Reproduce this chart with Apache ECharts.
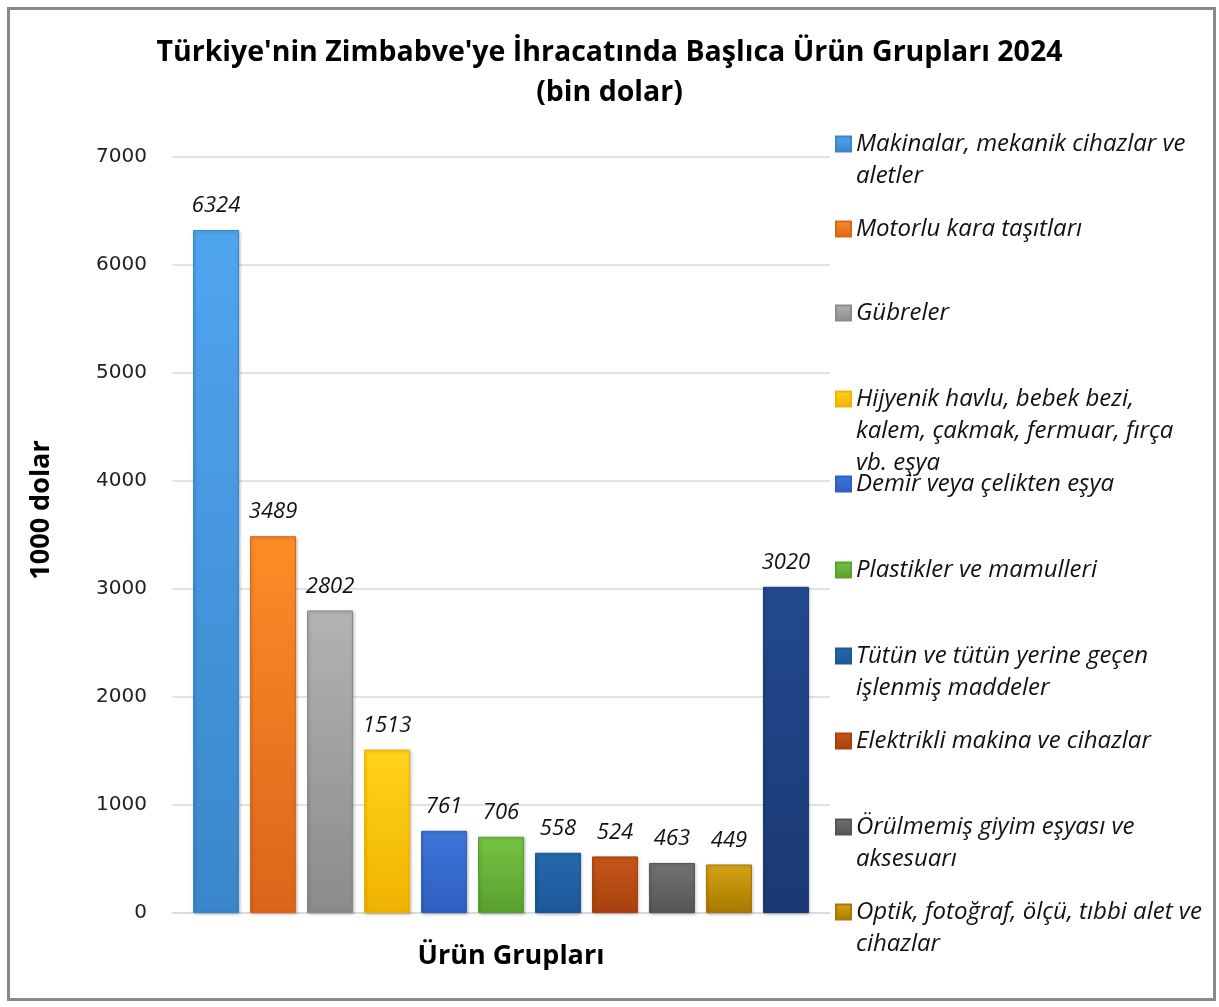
<!DOCTYPE html>
<html>
<head>
<meta charset="utf-8">
<script src="https://cdn.jsdelivr.net/npm/echarts@6/dist/echarts.min.js"></script>
<style>
html,body{margin:0;padding:0;background:#fff;}
#chart{width:1219px;height:1007px;}
</style>
</head>
<body>
<div id="chart"></div>
<script>
// ---- data ----
var categories = [
  'Makinalar, mekanik cihazlar ve aletler',
  'Motorlu kara taşıtları',
  'Gübreler',
  'Hijyenik havlu, bebek bezi, kalem, çakmak, fermuar, fırça vb. eşya',
  'Demir veya çelikten eşya',
  'Plastikler ve mamulleri',
  'Tütün ve tütün yerine geçen işlenmiş maddeler',
  'Elektrikli makina ve cihazlar',
  'Örülmemiş giyim eşyası ve aksesuarı',
  'Optik, fotoğraf, ölçü, tıbbi alet ve cihazlar',
  'Diğer'
];
var legendLines = [
  ['Makinalar, mekanik cihazlar ve', 'aletler'],
  ['Motorlu kara taşıtları'],
  ['Gübreler'],
  ['Hijyenik havlu, bebek bezi,', 'kalem, çakmak, fermuar, fırça', 'vb. eşya'],
  ['Demir veya çelikten eşya'],
  ['Plastikler ve mamulleri'],
  ['Tütün ve tütün yerine geçen', 'işlenmiş maddeler'],
  ['Elektrikli makina ve cihazlar'],
  ['Örülmemiş giyim eşyası ve', 'aksesuarı'],
  ['Optik, fotoğraf, ölçü, tıbbi alet ve', 'cihazlar']
];
var values = [6324, 3489, 2802, 1513, 761, 706, 558, 524, 463, 449, 3020];
var yTicks = [0, 1000, 2000, 3000, 4000, 5000, 6000, 7000];

// ---- styles ----
var colorsTop =    ['#50a5ef','#ff8b27','#b3b3b3','#ffd31c','#3d76da','#75c342','#2468ad','#c6561a','#717171','#d6a416','#23498f'];
var colorsBottom = ['#3a86ca','#db651a','#8b8b8b','#efb300','#2f5fbf','#59a02f','#1c5897','#a7410f','#555555','#a77800','#1b3974'];
var legendIconMid = [144, 229, 313, 399, 484, 570, 656, 741, 827, 912];
var LH = 32;

var chart = echarts.init(document.getElementById('chart'), null, {renderer: 'canvas'});

var series = values.map(function (v, i) {
  return {
    name: categories[i],
    type: 'bar',
    data: [v],
    barWidth: 46,
    barGap: '23.9%',
    itemStyle: {
      color: new echarts.graphic.LinearGradient(0, 0, 0, 1, [
        {offset: 0, color: colorsTop[i]},
        {offset: 1, color: colorsBottom[i]}
      ]),
      borderColor: colorsBottom[i],
      borderWidth: 1,
      shadowColor: 'rgba(0,0,0,0.25)',
      shadowBlur: 3,
      shadowOffsetX: 1,
      shadowOffsetY: 1
    },
    label: {
      show: true,
      position: 'top',
      distance: 13,
      fontFamily: 'Open Sans',
      fontStyle: 'italic',
      fontSize: 22,
      color: '#111'
    }
  };
});

var legends = legendLines.map(function (lines, i) {
  var n = lines.length;
  var pad = [];
  for (var k = 0; k < n - 1; k++) pad.push(' ');
  var txt = pad.concat(lines).join('\n');
  return {
    data: [categories[i]],
    left: 835,
    top: legendIconMid[i] - (LH * n - LH / 2),
    padding: 0,
    itemWidth: 15,
    itemHeight: 15,
    icon: 'rect',
    selectedMode: false,
    formatter: function () { return txt; },
    textStyle: {
      fontFamily: 'Open Sans',
      fontStyle: 'italic',
      fontSize: 24,
      lineHeight: LH,
      color: '#111'
    }
  };
});

chart.setOption({
  animation: false,
  backgroundColor: '#ffffff',
  title: {
    text: "Türkiye'nin Zimbabve'ye İhracatında Başlıca Ürün Grupları 2024\n(bin dolar)",
    left: 'center',
    top: 28,
    textStyle: {
      fontFamily: 'Open Sans',
      fontWeight: 'bold',
      fontSize: 28.5,
      lineHeight: 40,
      color: '#000'
    }
  },
  legend: legends,
  grid: {left: 172, right: 389, top: 157, bottom: 94, containLabel: false, outerBoundsMode: 'none'},
  xAxis: {
    type: 'category',
    data: ['Ürün Grupları'],
    name: 'Ürün Grupları',
    nameLocation: 'middle',
    nameGap: 30,
    nameMoveOverlap: false,
    nameTextStyle: {fontFamily: 'Open Sans', fontWeight: 'bold', fontSize: 27, color: '#000', padding: [0, 0, 0, 20]},
    axisLabel: {show: false},
    axisTick: {show: false},
    axisLine: {lineStyle: {color: '#d9d9d9', width: 1.5}}
  },
  yAxis: {
    type: 'value',
    min: yTicks[0],
    max: yTicks[yTicks.length - 1],
    interval: 1000,
    name: '1000 dolar',
    nameLocation: 'middle',
    nameRotate: 90,
    nameGap: 117,
    nameMoveOverlap: false,
    nameTextStyle: {fontFamily: 'Open Sans', fontWeight: 'bold', fontSize: 27, color: '#000', padding: [0, 0, 0, 50]},
    axisLine: {show: false},
    axisTick: {show: false},
    axisLabel: {
      fontFamily: 'DejaVu Sans', fontSize: 20, color: '#222', margin: 25,
      formatter: function (v) { return String(v); }
    },
    splitLine: {lineStyle: {color: '#d9d9d9', width: 1.5}}
  },
  graphic: [{
    type: 'rect',
    shape: {x: 8.5, y: 8.5, width: 1206, height: 991},
    style: {fill: 'none', stroke: '#898989', lineWidth: 3},
    silent: true
  }],
  series: series
});
</script>
</body>
</html>
